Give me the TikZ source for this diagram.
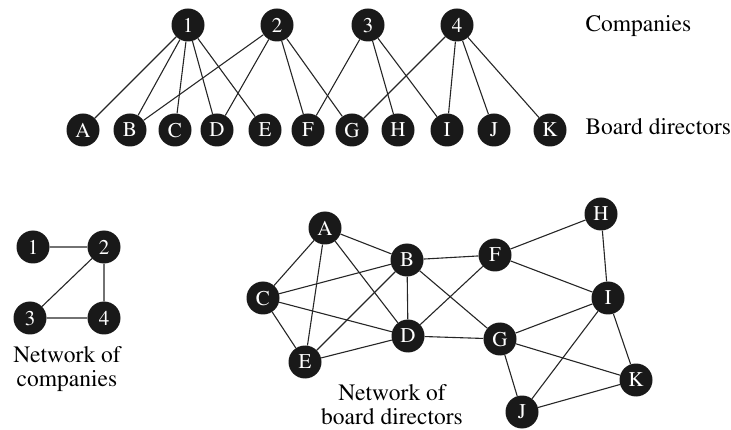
\documentclass[tikz,border=0pt]{standalone}
\usepackage[T1]{fontenc}
\usepackage{mathptmx}
\usepackage{tikz}

\tikzset{
  ball/.style={circle, fill=black!90, text=white, minimum size=33pt, inner sep=0pt, font=\fontsize{21}{21}\selectfont},
  link/.style={line width=1.1pt, black!85},
  caption/.style={font=\fontsize{23.5}{24}\selectfont, align=center}
}

\begin{document}
\begin{tikzpicture}[x=1pt, y=-1pt]
                \useasboundingbox (0,0) rectangle (731,430);

                % Companies (top row)
                \node[ball] (co1) at (188,25) {1};
                \node[ball] (co2) at (277,25) {2};
                \node[ball] (co3) at (368,25) {3};
                \node[ball] (co4) at (457,25) {4};

                % Board directors (bottom row)
                \node[ball] (dA) at (83,130) {A};
                \node[ball] (dB) at (130,130) {B};
                \node[ball] (dC) at (175,130) {C};
                \node[ball] (dD) at (217,130) {D};
                \node[ball] (dE) at (265,130) {E};
                \node[ball] (dF) at (308,130) {F};
                \node[ball] (dG) at (352,130) {G};
                \node[ball] (dH) at (398,130) {H};
                \node[ball] (dI) at (447,130) {I};
                \node[ball] (dJ) at (494,130) {J};
                \node[ball] (dK) at (550,130) {K};

                % Memberships
                \draw[link] (co1) -- (dA) (co1) -- (dB) (co1) -- (dC) (co1) -- (dD) (co1) -- (dE);
                \draw[link] (co2) -- (dB) (co2) -- (dD) (co2) -- (dF) (co2) -- (dG);
                \draw[link] (co3) -- (dF) (co3) -- (dH) (co3) -- (dI);
                \draw[link] (co4) -- (dG) (co4) -- (dI) (co4) -- (dJ) (co4) -- (dK);

                % Labels for the two rows
                \node[caption, anchor=base west] (lcomp) at (582,32) {Companies};
                \node[caption, anchor=base west] (ldir) at (582,135) {Board directors};

                % Network of companies
                \node[ball] (nc1) at (33,247) {1};
                \node[ball] (nc2) at (104,247) {2};
                \node[ball] (nc3) at (30,318) {3};
                \node[ball] (nc4) at (104,318) {4};
                \draw[link] (nc1) -- (nc2) (nc2) -- (nc3) (nc2) -- (nc4) (nc3) -- (nc4);
                \node[caption] (lnc) at (67,369) {Network of\\companies};

                % Network of board directors
                \node[ball] (nA) at (325,228) {A};
                \node[ball] (nB) at (407,260) {B};
                \node[ball] (nC) at (263,298) {C};
                \node[ball] (nD) at (408,336) {D};
                \node[ball] (nE) at (305,362) {E};
                \node[ball] (nF) at (495,255) {F};
                \node[ball] (nG) at (500,339) {G};
                \node[ball] (nH) at (601,214) {H};
                \node[ball] (nI) at (608,298) {I};
                \node[ball] (nJ) at (522,412) {J};
                \node[ball] (nK) at (636,380) {K};
                \draw[link] (nA) -- (nC) (nA) -- (nE) (nA) -- (nB) (nA) -- (nD);
                \draw[link] (nC) -- (nB) (nC) -- (nD) (nC) -- (nE);
                \draw[link] (nE) -- (nB) (nE) -- (nD) (nB) -- (nD);
                \draw[link] (nB) -- (nF) (nB) -- (nG) (nF) -- (nD) (nD) -- (nG);
                \draw[link] (nF) -- (nH) (nF) -- (nI) (nH) -- (nI);
                \draw[link] (nI) -- (nG) (nI) -- (nJ) (nI) -- (nK);
                \draw[link] (nG) -- (nJ) (nG) -- (nK) (nK) -- (nJ);
                \node[caption] (lnd) at (392,405) {Network of\\board directors};

            \end{tikzpicture}
\end{document}
